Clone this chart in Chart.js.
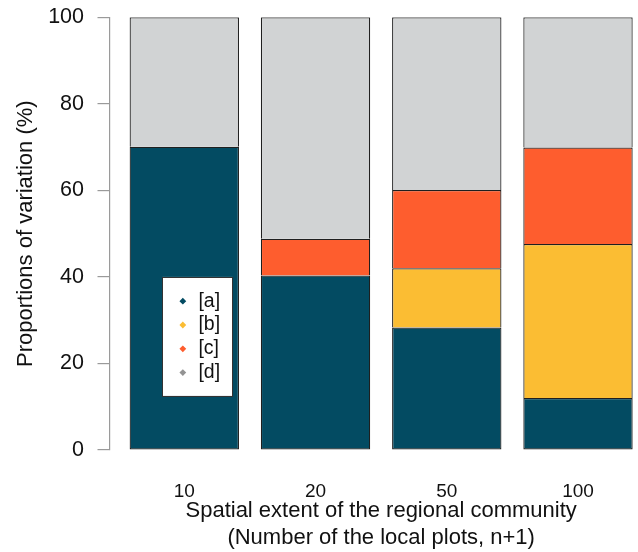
<!DOCTYPE html>
<html>
<head>
<meta charset="utf-8">
<script src="https://cdn.jsdelivr.net/npm/chart.js@4"></script>
<style>
  html, body { margin: 0; padding: 0; background: #fff; overflow: hidden; }
  #wrap { position: relative; width: 680px; height: 552px; }
</style>
</head>
<body>
<div id="wrap"><canvas id="chart"></canvas></div>
<script>
// Spatial extent of the regional community (number of local plots)
const categories = ['10', '20', '50', '100'];

// Variation partitioning fractions (%)
const fractionA = [70.1, 40.3, 28.3, 12.0];
const fractionB = [0, 0, 13.7, 35.6];
const fractionC = [0, 8.5, 18.1, 22.3];
const fractionD = [29.9, 51.2, 39.9, 30.1];

const seriesLabels = ['[a]', '[b]', '[c]', '[d]'];
const yTicks = [0, 20, 40, 60, 80, 100];

const fillColors = ['#034b62', '#fbbd33', '#fe5d2e', '#d1d3d4'];
const markerColors = ['#034b62', '#fbbd33', '#fe5d2e', '#939393'];
const edgeColor = '#1f1f1f';
const FONT = '"Liberation Sans", Arial, sans-serif';

// barplot-style layout: unit-wide bars separated by a 0.2 gap
const space = 0.2;
const centers = categories.map((_, i) => space + i * (1 + space) + 0.5);
const span = categories.length * (1 + space) - space;
const xMin = space - 0.04 * span;
const xMax = space + span + 0.04 * span;

const series = [fractionA, fractionB, fractionC, fractionD];

// Legend box anchored at data coordinates (x = 0.5, y = 40)
const boxLegend = {
  id: 'boxLegend',
  afterDatasetsDraw(chart) {
    const { ctx, scales: { x, y } } = chart;
    const fontSize = 19.5;
    const rowH = 23.8;
    ctx.save();
    ctx.font = fontSize + 'px ' + FONT;
    const textW = Math.max(...seriesLabels.map(l => ctx.measureText(l).width));
    const left = x.getPixelForValue(0.5);
    const top = y.getPixelForValue(40);
    const w = 36 + textW + 12.5;
    const h = rowH * (seriesLabels.length + 1);
    ctx.fillStyle = '#fff';
    ctx.fillRect(left, top, w, h);
    ctx.strokeStyle = '#333';
    ctx.lineWidth = 1;
    ctx.strokeRect(Math.round(left) + 0.5, Math.round(top) + 0.5, Math.round(w), Math.round(h));
    seriesLabels.forEach((lab, i) => {
      const cy = top + rowH * (i + 1) + 0.5;
      const cx = left + 20.4;
      const r = 3.4;
      ctx.fillStyle = markerColors[i];
      ctx.beginPath();
      ctx.moveTo(cx, cy - r);
      ctx.lineTo(cx + r, cy);
      ctx.lineTo(cx, cy + r);
      ctx.lineTo(cx - r, cy);
      ctx.closePath();
      ctx.fill();
      ctx.fillStyle = '#111';
      ctx.textAlign = 'left';
      ctx.textBaseline = 'middle';
      ctx.fillText(lab, left + 36, cy);
    });
    ctx.restore();
  }
};

new Chart(document.getElementById('chart'), {
  type: 'bar',
  data: {
    labels: centers,
    datasets: series.map((vals, i) => ({
      label: seriesLabels[i],
      data: vals,
      backgroundColor: fillColors[i],
      borderColor: edgeColor,
      borderWidth: 1.2,
      borderSkipped: i === 0 ? false : 'start',
      barPercentage: 1 / (1 + space),
      categoryPercentage: 1
    }))
  },
  options: {
    responsive: true,
    maintainAspectRatio: false,
    animation: false,
    layout: { padding: { left: 0, right: 27.2, top: 17.3, bottom: 0 } },
    plugins: {
      legend: { display: false },
      tooltip: { enabled: false }
    },
    scales: {
      x: {
        type: 'linear',
        stacked: true,
        min: xMin,
        max: xMax,
        offset: false,
        border: { display: false },
        grid: { display: false, drawTicks: false, offset: false },
        afterBuildTicks(scale) {
          scale.ticks = centers.map(v => ({ value: v }));
        },
        afterFit(scale) { scale.height = 102; },
        ticks: {
          autoSkip: false,
          maxRotation: 0,
          padding: 32,
          color: '#111',
          font: { family: FONT, size: 19, lineHeight: 1.0 },
          callback: (v, i) => categories[i]
        },
        title: {
          display: true,
          text: ['Spatial extent of the regional community', '(Number of the local plots, n+1)'],
          color: '#111',
          font: { family: FONT, size: 22, lineHeight: 1.2 },
          padding: { top: 0, bottom: 1 }
        }
      },
      y: {
        stacked: true,
        min: 0,
        max: 100,
        afterBuildTicks(scale) {
          scale.ticks = yTicks.map(v => ({ value: v }));
        },
        afterFit(scale) {
          scale.width = 109.5;
          // tick labels may overhang the plot edge; let the layout padding decide
          scale.paddingTop = 0;
          scale.paddingBottom = 0;
        },
        border: { display: true, color: '#9a9a9a', width: 1.2 },
        grid: {
          drawOnChartArea: false,
          drawTicks: true,
          tickLength: 12,
          color: '#9a9a9a',
          lineWidth: 1.2
        },
        ticks: {
          padding: 13.5,
          color: '#111',
          font: { family: FONT, size: 21.5 }
        },
        title: {
          display: true,
          text: 'Proportions of variation (%)',
          color: '#111',
          font: { family: FONT, size: 22, lineHeight: 1.2 },
          padding: { top: 13, bottom: 0 }
        }
      }
    }
  },
  plugins: [boxLegend]
});
</script>
</body>
</html>
